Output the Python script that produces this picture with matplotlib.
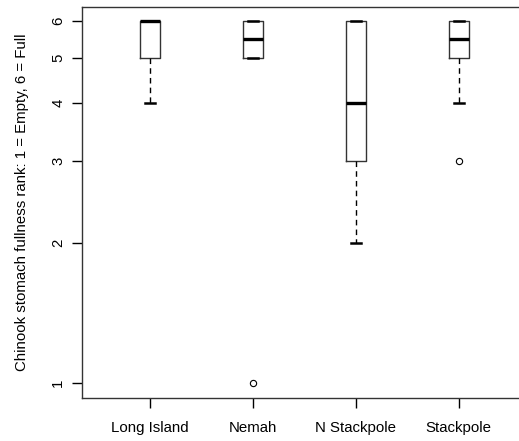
import matplotlib.pyplot as plt
from matplotlib.ticker import FixedLocator, NullLocator

plt.rcParams.update({
    'font.family': ['Liberation Sans', 'DejaVu Sans'],
    'font.size': 10.8,
    'axes.linewidth': 1.0,
})

# Stomach fullness rank summaries per site
sites = ['Long Island', 'Nemah', 'N Stackpole', 'Stackpole']
q1 = [5, 5, 3, 5]
medians = [6, 5.5, 4, 5.5]
q3 = [6, 6, 6, 6]
whisker_lo = [4, 5, 2, 4]
whisker_hi = [6, 6, 6, 6]
outliers = [[], [1], [], [3]]

stats = []
for name, lo, a, m, b, hi, fl in zip(sites, whisker_lo, q1, medians, q3,
                                     whisker_hi, outliers):
    stats.append({'label': name, 'whislo': lo, 'q1': a, 'med': m,
                  'q3': b, 'whishi': hi, 'fliers': fl})

fig = plt.figure(figsize=(5.19, 4.41), dpi=100)
ax = fig.add_axes([0.158, 0.0986, 0.857, 0.886])

ax.bxp(stats, positions=range(1, len(sites) + 1), widths=0.2,
       boxprops=dict(color='#333333', linewidth=1.0),
       medianprops=dict(color='black', linewidth=2.4),
       whiskerprops=dict(color='black', linewidth=1.0, linestyle=(0, (4, 3))),
       capprops=dict(color='black', linewidth=1.8),
       flierprops=dict(marker='o', markersize=4.5, markerfacecolor='none',
                       markeredgecolor='black', markeredgewidth=0.8),
       capwidths=0.1)

ax.set_yscale('log')
ax.set_ylim(10 ** -0.0311, 6 * 10 ** 0.0311)
ax.set_xlim(0.34, 4.66)
ax.yaxis.set_major_locator(FixedLocator([1, 2, 3, 4, 5, 6]))
ax.yaxis.set_minor_locator(NullLocator())
ax.set_yticklabels(['1', '2', '3', '4', '5', '6'], rotation=90, va='center')
ax.set_xticks(range(1, len(sites) + 1))
ax.set_xticklabels(sites)
ax.tick_params(direction='out', length=7, width=1, pad=10)
ax.tick_params(axis='y', pad=5)

for sp in ax.spines.values():
    sp.set_color('#333333')

ax.set_ylabel('Chinook stomach fullness rank: 1 = Empty, 6 = Full', labelpad=16)

fig.savefig('out.png', dpi=100)
